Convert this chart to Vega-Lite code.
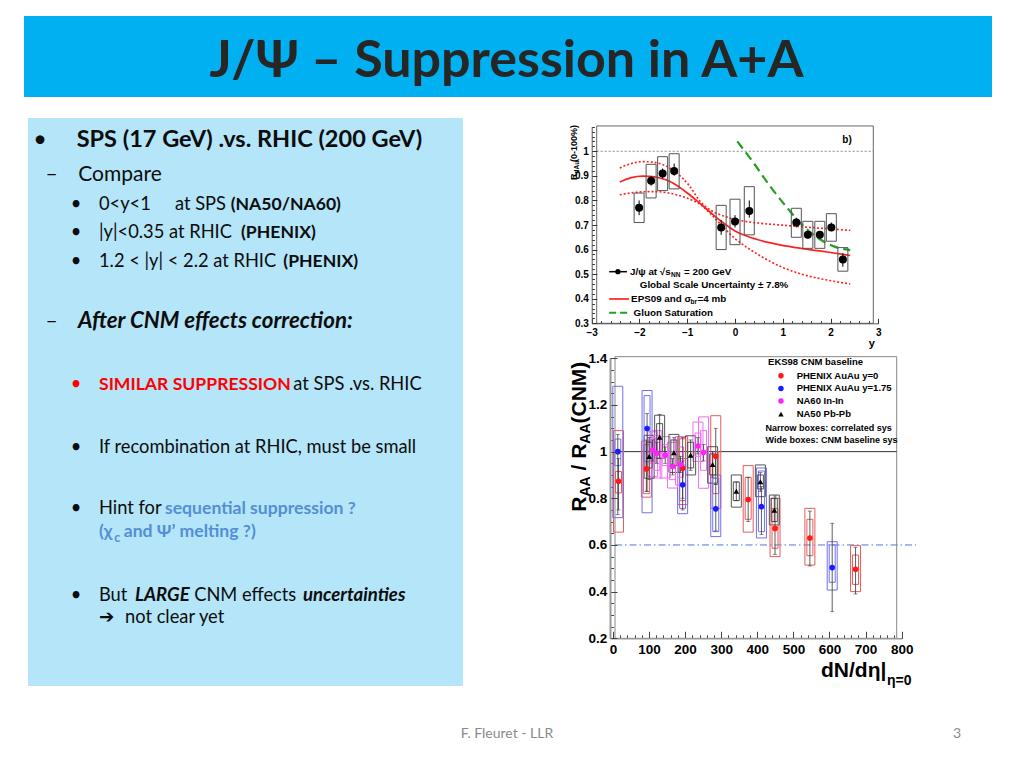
{
  "$schema": "https://vega.github.io/schema/vega-lite/v6.json",
  "background": "white",
  "width": 1000,
  "height": 752,
  "padding": {"left": 24, "top": 16, "right": 0, "bottom": 0},
  "autosize": {"type": "none"},
  "config": {"view": {"stroke": null}, "axis": {"grid": false}},
  "datasets": {
    "panel": [
      {"t": "•", "x": 2.76, "y": 5.05, "lvl": "h", "tone": "dark", "role": "bullet"},
      {"t": "SPS (17 GeV) .vs. RHIC (200 GeV)", "x": 11.19, "y": 5.05, "lvl": "h", "tone": "dark", "role": "strong"},
      {"t": "–", "x": 5.45, "y": 11.04, "lvl": "l2", "tone": "dark", "role": "bullet"},
      {"t": "Compare", "x": 11.56, "y": 11.04, "lvl": "l2", "tone": "dark", "role": "plain"},
      {"t": "•", "x": 11.03, "y": 16.2, "lvl": "l3", "tone": "dark", "role": "bullet"},
      {"t": "0<y<1", "x": 16.32, "y": 16.2, "lvl": "l3", "tone": "dark", "role": "plain"},
      {"t": "at SPS", "x": 33.79, "y": 16.2, "lvl": "l3", "tone": "dark", "role": "plain"},
      {"t": "(NA50/NA60)", "x": 46.6, "y": 16.2, "lvl": "l3", "tone": "dark", "role": "strong"},
      {"t": "•", "x": 11.03, "y": 21.18, "lvl": "l3", "tone": "dark", "role": "bullet"},
      {"t": "|y|<0.35 at RHIC", "x": 16.32, "y": 21.18, "lvl": "l3", "tone": "dark", "role": "plain"},
      {"t": "(PHENIX)", "x": 48.97, "y": 21.18, "lvl": "l3", "tone": "dark", "role": "strong"},
      {"t": "•", "x": 11.03, "y": 26.18, "lvl": "l3", "tone": "dark", "role": "bullet"},
      {"t": "1.2 < |y| < 2.2 at RHIC", "x": 16.32, "y": 26.18, "lvl": "l3", "tone": "dark", "role": "plain"},
      {"t": "(PHENIX)", "x": 58.69, "y": 26.18, "lvl": "l3", "tone": "dark", "role": "strong"},
      {"t": "–", "x": 5.45, "y": 37.02, "lvl": "l2", "tone": "dark", "role": "bullet"},
      {"t": "After CNM effects correction:", "x": 11.49, "y": 37.02, "lvl": "l2", "tone": "dark", "role": "emphasis"},
      {"t": "•", "x": 11.03, "y": 47.89, "lvl": "l3", "tone": "red", "role": "bullet"},
      {"t": "SIMILAR SUPPRESSION", "x": 16.32, "y": 47.89, "lvl": "l3", "tone": "red", "role": "strong"},
      {"t": "at SPS .vs. RHIC", "x": 61.0, "y": 47.89, "lvl": "l3", "tone": "dark", "role": "plain"},
      {"t": "•", "x": 11.03, "y": 58.93, "lvl": "l3", "tone": "dark", "role": "bullet"},
      {"t": "If recombination at RHIC, must be small", "x": 16.32, "y": 58.93, "lvl": "l3", "tone": "dark", "role": "plain"},
      {"t": "•", "x": 11.03, "y": 69.77, "lvl": "l3", "tone": "dark", "role": "bullet"},
      {"t": "Hint for", "x": 16.32, "y": 69.77, "lvl": "l3", "tone": "dark", "role": "plain"},
      {"t": "sequential suppression ?", "x": 31.49, "y": 69.77, "lvl": "l3", "tone": "blue", "role": "strong"},
      {"t": "(χ", "x": 16.32, "y": 73.71, "lvl": "l3", "tone": "blue", "role": "strong"},
      {"t": "c", "x": 19.8, "y": 74.6, "lvl": "sub", "tone": "blue", "role": "strong"},
      {"t": "and Ψ’ melting ?)", "x": 22.0, "y": 73.71, "lvl": "l3", "tone": "blue", "role": "strong"},
      {"t": "•", "x": 11.03, "y": 85.04, "lvl": "l3", "tone": "dark", "role": "bullet"},
      {"t": "But", "x": 16.32, "y": 85.04, "lvl": "l3", "tone": "dark", "role": "plain"},
      {"t": "LARGE", "x": 24.6, "y": 85.04, "lvl": "l3", "tone": "dark", "role": "emphasis"},
      {"t": "CNM effects", "x": 38.2, "y": 85.04, "lvl": "l3", "tone": "dark", "role": "plain"},
      {"t": "uncertainties", "x": 63.2, "y": 85.04, "lvl": "l3", "tone": "dark", "role": "emphasis"},
      {"t": "➔", "x": 16.32, "y": 88.86, "lvl": "l3", "tone": "dark", "role": "plain"},
      {"t": "not clear yet", "x": 22.3, "y": 88.86, "lvl": "l3", "tone": "dark", "role": "plain"}
    ],
    "top": [
      {"rap": -2.08, "r": 0.77, "elo": 0.74, "ehi": 0.80, "slo": 0.71, "shi": 0.83},
      {"rap": -1.82, "r": 0.88, "elo": 0.86, "ehi": 0.90, "slo": 0.81, "shi": 0.947},
      {"rap": -1.57, "r": 0.91, "elo": 0.89, "ehi": 0.93, "slo": 0.84, "shi": 0.978},
      {"rap": -1.32, "r": 0.92, "elo": 0.90, "ehi": 0.95, "slo": 0.847, "shi": 0.99},
      {"rap": -0.30, "r": 0.69, "elo": 0.66, "ehi": 0.72, "slo": 0.60, "shi": 0.78},
      {"rap": 0.0, "r": 0.714, "elo": 0.69, "ehi": 0.74, "slo": 0.62, "shi": 0.805},
      {"rap": 0.31, "r": 0.757, "elo": 0.73, "ehi": 0.80, "slo": 0.66, "shi": 0.856},
      {"rap": 1.33, "r": 0.71, "elo": 0.69, "ehi": 0.73, "slo": 0.65, "shi": 0.768},
      {"rap": 1.58, "r": 0.66, "elo": 0.645, "ehi": 0.675, "slo": 0.605, "shi": 0.715},
      {"rap": 1.84, "r": 0.66, "elo": 0.645, "ehi": 0.675, "slo": 0.605, "shi": 0.715},
      {"rap": 2.09, "r": 0.69, "elo": 0.675, "ehi": 0.71, "slo": 0.634, "shi": 0.746},
      {"rap": 2.34, "r": 0.56, "elo": 0.53, "ehi": 0.585, "slo": 0.512, "shi": 0.608}
    ],
    "curves": [
      {"c": "EPS09", "rap": -2.5, "r": 0.875}, {"c": "EPS09", "rap": -2.25, "r": 0.893}, {"c": "EPS09", "rap": -2.0, "r": 0.899},
      {"c": "EPS09", "rap": -1.75, "r": 0.896}, {"c": "EPS09", "rap": -1.5, "r": 0.884}, {"c": "EPS09", "rap": -1.25, "r": 0.86},
      {"c": "EPS09", "rap": -1.0, "r": 0.825}, {"c": "EPS09", "rap": -0.75, "r": 0.786}, {"c": "EPS09", "rap": -0.5, "r": 0.746},
      {"c": "EPS09", "rap": -0.25, "r": 0.708}, {"c": "EPS09", "rap": 0.0, "r": 0.676}, {"c": "EPS09", "rap": 0.25, "r": 0.655},
      {"c": "EPS09", "rap": 0.5, "r": 0.64}, {"c": "EPS09", "rap": 0.75, "r": 0.628}, {"c": "EPS09", "rap": 1.0, "r": 0.618},
      {"c": "EPS09", "rap": 1.5, "r": 0.603}, {"c": "EPS09", "rap": 2.0, "r": 0.59}, {"c": "EPS09", "rap": 2.5, "r": 0.576},
      {"c": "EPS09 upper", "rap": -2.5, "r": 0.932}, {"c": "EPS09 upper", "rap": -2.25, "r": 0.95}, {"c": "EPS09 upper", "rap": -2.0, "r": 0.958},
      {"c": "EPS09 upper", "rap": -1.75, "r": 0.955}, {"c": "EPS09 upper", "rap": -1.5, "r": 0.94}, {"c": "EPS09 upper", "rap": -1.25, "r": 0.91},
      {"c": "EPS09 upper", "rap": -1.0, "r": 0.862}, {"c": "EPS09 upper", "rap": -0.75, "r": 0.795}, {"c": "EPS09 upper", "rap": -0.5, "r": 0.757},
      {"c": "EPS09 upper", "rap": -0.25, "r": 0.737}, {"c": "EPS09 upper", "rap": 0.0, "r": 0.723}, {"c": "EPS09 upper", "rap": 0.5, "r": 0.708},
      {"c": "EPS09 upper", "rap": 1.0, "r": 0.70}, {"c": "EPS09 upper", "rap": 1.5, "r": 0.692}, {"c": "EPS09 upper", "rap": 2.0, "r": 0.685},
      {"c": "EPS09 upper", "rap": 2.5, "r": 0.678},
      {"c": "EPS09 lower", "rap": -2.5, "r": 0.823}, {"c": "EPS09 lower", "rap": -2.0, "r": 0.835}, {"c": "EPS09 lower", "rap": -1.75, "r": 0.836},
      {"c": "EPS09 lower", "rap": -1.5, "r": 0.832}, {"c": "EPS09 lower", "rap": -1.25, "r": 0.822}, {"c": "EPS09 lower", "rap": -1.0, "r": 0.806},
      {"c": "EPS09 lower", "rap": -0.75, "r": 0.783}, {"c": "EPS09 lower", "rap": -0.5, "r": 0.74}, {"c": "EPS09 lower", "rap": -0.25, "r": 0.69},
      {"c": "EPS09 lower", "rap": 0.0, "r": 0.645}, {"c": "EPS09 lower", "rap": 0.25, "r": 0.61}, {"c": "EPS09 lower", "rap": 0.5, "r": 0.58},
      {"c": "EPS09 lower", "rap": 0.75, "r": 0.553}, {"c": "EPS09 lower", "rap": 1.0, "r": 0.53}, {"c": "EPS09 lower", "rap": 1.25, "r": 0.512},
      {"c": "EPS09 lower", "rap": 1.5, "r": 0.497}, {"c": "EPS09 lower", "rap": 2.0, "r": 0.476}, {"c": "EPS09 lower", "rap": 2.5, "r": 0.46},
      {"c": "Gluon", "rap": 0.05, "r": 1.04}, {"c": "Gluon", "rap": 0.41, "r": 0.951}, {"c": "Gluon", "rap": 0.76, "r": 0.858},
      {"c": "Gluon", "rap": 1.11, "r": 0.775}, {"c": "Gluon", "rap": 1.46, "r": 0.70}, {"c": "Gluon", "rap": 1.81, "r": 0.646},
      {"c": "Gluon", "rap": 2.16, "r": 0.612}, {"c": "Gluon", "rap": 2.5, "r": 0.598}
    ],
    "bottom": [
      {"set": "PHENIX AuAu y=0", "m": 2, "r": 0.873, "elo": 0.75, "ehi": 0.97, "nlo": 0.823, "nhi": 0.915, "wlo": 0.655, "whi": 1.09},
      {"set": "PHENIX AuAu y=0", "m": 82, "r": 0.926, "elo": 0.83, "ehi": 1.05, "nlo": 0.82, "nhi": 1.03, "wlo": 0.805, "whi": 1.045},
      {"set": "PHENIX AuAu y=0", "m": 186, "r": 0.929, "elo": 0.80, "ehi": 1.06, "nlo": 0.79, "nhi": 1.055, "wlo": 0.773, "whi": 1.064},
      {"set": "PHENIX AuAu y=0", "m": 281, "r": 0.98, "elo": 0.86, "ehi": 1.10, "nlo": 0.82, "nhi": 1.0, "wlo": 0.757, "whi": 1.154},
      {"set": "PHENIX AuAu y=0", "m": 374, "r": 0.795, "elo": 0.70, "ehi": 0.89, "nlo": 0.71, "nhi": 0.89, "wlo": 0.655, "whi": 0.94},
      {"set": "PHENIX AuAu y=0", "m": 451, "r": 0.671, "elo": 0.56, "ehi": 0.81, "nlo": 0.586, "nhi": 0.757, "wlo": 0.55, "whi": 0.80},
      {"set": "PHENIX AuAu y=0", "m": 551, "r": 0.63, "elo": 0.51, "ehi": 0.745, "nlo": 0.554, "nhi": 0.71, "wlo": 0.514, "whi": 0.757},
      {"set": "PHENIX AuAu y=0", "m": 682, "r": 0.496, "elo": 0.39, "ehi": 0.59, "nlo": 0.431, "nhi": 0.557, "wlo": 0.40, "whi": 0.597},
      {"set": "PHENIX AuAu y=1.75", "m": 0, "r": 1.0, "elo": 0.73, "ehi": 1.074, "nlo": 0.94, "nhi": 1.054, "wlo": 0.717, "whi": 1.28},
      {"set": "PHENIX AuAu y=1.75", "m": 84, "r": 1.099, "elo": 0.83, "ehi": 1.163, "nlo": 0.957, "nhi": 1.24, "wlo": 0.738, "whi": 1.262},
      {"set": "PHENIX AuAu y=1.75", "m": 186, "r": 0.858, "elo": 0.75, "ehi": 0.96, "nlo": 0.757, "nhi": 0.943, "wlo": 0.734, "whi": 0.97},
      {"set": "PHENIX AuAu y=1.75", "m": 281, "r": 0.755, "elo": 0.66, "ehi": 0.86, "nlo": 0.657, "nhi": 0.886, "wlo": 0.636, "whi": 0.90},
      {"set": "PHENIX AuAu y=1.75", "m": 412, "r": 0.764, "elo": 0.645, "ehi": 0.85, "nlo": 0.657, "nhi": 0.917, "wlo": 0.63, "whi": 0.93},
      {"set": "PHENIX AuAu y=1.75", "m": 615, "r": 0.503, "elo": 0.314, "ehi": 0.693, "nlo": 0.44, "nhi": 0.60, "wlo": 0.407, "whi": 0.614},
      {"set": "NA60 In-In", "m": 100, "r": 1.007, "elo": 0.96, "ehi": 1.05, "nlo": 0.95, "nhi": 1.06, "wlo": 0.894, "whi": 1.085},
      {"set": "NA60 In-In", "m": 112, "r": 0.993, "elo": 0.95, "ehi": 1.04, "nlo": 0.92, "nhi": 1.07, "wlo": 0.887, "whi": 1.09},
      {"set": "NA60 In-In", "m": 136, "r": 0.985, "elo": 0.95, "ehi": 1.02, "nlo": 0.94, "nhi": 1.03, "wlo": 0.887, "whi": 1.064},
      {"set": "NA60 In-In", "m": 157, "r": 0.937, "elo": 0.90, "ehi": 0.97, "nlo": 0.88, "nhi": 1.0, "wlo": 0.844, "whi": 1.04},
      {"set": "NA60 In-In", "m": 180, "r": 0.945, "elo": 0.91, "ehi": 0.98, "nlo": 0.89, "nhi": 1.02, "wlo": 0.857, "whi": 1.064},
      {"set": "NA60 In-In", "m": 230, "r": 1.024, "elo": 0.99, "ehi": 1.06, "nlo": 0.98, "nhi": 1.08, "wlo": 0.958, "whi": 1.127},
      {"set": "NA60 In-In", "m": 246, "r": 0.997, "elo": 0.96, "ehi": 1.03, "nlo": 0.92, "nhi": 1.09, "wlo": 0.843, "whi": 1.149},
      {"set": "NA50 Pb-Pb", "m": 90, "r": 0.979, "elo": 0.88, "ehi": 1.06, "nlo": 0.93, "nhi": 1.04, "wlo": 0.886, "whi": 1.07},
      {"set": "NA50 Pb-Pb", "m": 120, "r": 1.062, "elo": 0.97, "ehi": 1.16, "nlo": 1.0, "nhi": 1.12, "wlo": 0.972, "whi": 1.156},
      {"set": "NA50 Pb-Pb", "m": 161, "r": 0.995, "elo": 0.93, "ehi": 1.06, "nlo": 0.94, "nhi": 1.05, "wlo": 0.911, "whi": 1.074},
      {"set": "NA50 Pb-Pb", "m": 209, "r": 0.985, "elo": 0.92, "ehi": 1.05, "nlo": 0.93, "nhi": 1.04, "wlo": 0.90, "whi": 1.068},
      {"set": "NA50 Pb-Pb", "m": 272, "r": 0.945, "elo": 0.89, "ehi": 1.0, "nlo": 0.90, "nhi": 0.99, "wlo": 0.865, "whi": 1.021},
      {"set": "NA50 Pb-Pb", "m": 340, "r": 0.83, "elo": 0.79, "ehi": 0.87, "nlo": 0.79, "nhi": 0.87, "wlo": 0.762, "whi": 0.90},
      {"set": "NA50 Pb-Pb", "m": 409, "r": 0.871, "elo": 0.83, "ehi": 0.91, "nlo": 0.84, "nhi": 0.90, "wlo": 0.807, "whi": 0.943},
      {"set": "NA50 Pb-Pb", "m": 449, "r": 0.749, "elo": 0.70, "ehi": 0.80, "nlo": 0.70, "nhi": 0.80, "wlo": 0.686, "whi": 0.814}
    ]
  },
  "resolve": {"scale": {"x": "independent", "y": "independent", "color": "independent", "stroke": "independent"}},
  "layer": [
    {
      "layer": [
        {"data": {"values": [{}]}, "mark": {"type": "rect", "color": "#00b0f0"},
         "encoding": {
           "x": {"datum": 0, "type": "quantitative", "scale": {"domain": [0, 100], "range": [0, 968]}, "axis": null}, "x2": {"datum": 100},
           "y": {"datum": 0, "type": "quantitative", "scale": {"domain": [0, 100], "range": [0, 81]}, "axis": null}, "y2": {"datum": 100}}},
        {"data": {"values": [{"t": "J/Ψ – Suppression in A+A", "x": 49.85, "y": 75.5}]},
         "mark": {"type": "text", "font": "Lato", "fontWeight": "bold", "fontSize": 52, "color": "#262626", "align": "center", "baseline": "alphabetic"},
         "encoding": {"text": {"field": "t"}, "x": {"field": "x", "type": "quantitative", "axis": null}, "y": {"field": "y", "type": "quantitative", "axis": null}}}
      ]
    },
    {
      "layer": [
        {"data": {"values": [{}]}, "mark": {"type": "rect", "color": "#b4e5f8"},
         "encoding": {
           "x": {"datum": 0, "type": "quantitative", "scale": {"domain": [0, 100], "range": [4, 439]}, "axis": null}, "x2": {"datum": 100},
           "y": {"datum": 0, "type": "quantitative", "scale": {"domain": [0, 100], "range": [102, 670]}, "axis": null}, "y2": {"datum": 100}}},
        {
          "data": {"name": "panel"},
          "encoding": {
            "x": {"field": "x", "type": "quantitative", "axis": null},
            "y": {"field": "y", "type": "quantitative", "axis": null},
            "text": {"field": "t"},
            "color": {"field": "tone", "type": "nominal", "scale": {"domain": ["dark", "red", "blue"], "range": ["#0d0d0d", "#ff0000", "#558ed5"]}, "legend": null}
          },
          "layer": [
            {"transform": [{"filter": "datum.role == 'bullet' && datum.lvl == 'h'"}], "mark": {"type": "text", "align": "center", "baseline": "alphabetic", "font": "Lato", "fontSize": 23.5}},
            {"transform": [{"filter": "datum.role == 'bullet' && datum.lvl == 'l2'"}], "mark": {"type": "text", "align": "center", "baseline": "alphabetic", "font": "Lato", "fontSize": 21}},
            {"transform": [{"filter": "datum.role == 'bullet' && datum.lvl == 'l3'"}], "mark": {"type": "text", "align": "center", "baseline": "alphabetic", "font": "Lato", "fontSize": 18.3}},
            {"transform": [{"filter": "datum.role == 'plain' && datum.lvl == 'l2'"}], "mark": {"type": "text", "align": "left", "baseline": "alphabetic", "font": "Lato", "fontSize": 21}},
            {"transform": [{"filter": "datum.role == 'plain' && datum.lvl == 'l3'"}], "mark": {"type": "text", "align": "left", "baseline": "alphabetic", "font": "Lato, DejaVu Sans", "fontSize": 18.3}},
            {"transform": [{"filter": "datum.role == 'strong' && datum.lvl == 'h'"}], "mark": {"type": "text", "align": "left", "baseline": "alphabetic", "font": "Lato", "fontWeight": "bold", "fontSize": 23.5}},
            {"transform": [{"filter": "datum.role == 'strong' && datum.lvl == 'l3'"}], "mark": {"type": "text", "align": "left", "baseline": "alphabetic", "font": "Lato", "fontWeight": "bold", "fontSize": 17.6}},
            {"transform": [{"filter": "datum.role == 'strong' && datum.lvl == 'sub'"}], "mark": {"type": "text", "align": "left", "baseline": "alphabetic", "font": "Lato", "fontWeight": "bold", "fontSize": 12.5}},
            {"transform": [{"filter": "datum.role == 'emphasis' && datum.lvl == 'l2'"}], "mark": {"type": "text", "align": "left", "baseline": "alphabetic", "font": "Lato", "fontWeight": "bold", "fontStyle": "italic", "fontSize": 22.3}},
            {"transform": [{"filter": "datum.role == 'emphasis' && datum.lvl == 'l3'"}], "mark": {"type": "text", "align": "left", "baseline": "alphabetic", "font": "Lato", "fontWeight": "bold", "fontStyle": "italic", "fontSize": 18.6}}
          ]
        }
      ]
    },
    {
      "data": {"values": [{"t": "F. Fleuret - LLR", "x": 49.9, "y": 77.5}, {"t": "3", "x": 96.4, "y": 77.5}]},
      "mark": {"type": "text", "font": "Lato", "fontSize": 14, "color": "#8a8a8a", "align": "center", "baseline": "alphabetic"},
      "encoding": {
        "text": {"field": "t"},
        "x": {"field": "x", "type": "quantitative", "scale": {"domain": [0, 100], "range": [0, 968]}, "axis": null},
        "y": {"field": "y", "type": "quantitative", "scale": {"domain": [0, 100], "range": [691, 731]}, "axis": null}
      }
    },
    {
      "layer": [
        {"data": {"values": [{}]}, "mark": {"type": "rect", "filled": false, "color": "#666", "strokeWidth": 1},
         "encoding": {
           "x": {"datum": -3, "type": "quantitative", "scale": {"domain": [-3, 3], "range": [567.7, 854.3], "nice": false, "zero": false}, "axis": null}, "x2": {"datum": 3},
           "y": {"datum": 0.3, "type": "quantitative", "scale": {"domain": [0.3, 1.1], "range": [307.3, 110.7], "nice": false, "zero": false}, "axis": null}, "y2": {"datum": 1.103}}},
        {"data": {"values": [{}]}, "mark": {"type": "rule", "color": "#888", "strokeDash": [2, 2], "strokeWidth": 1},
         "encoding": {"x": {"datum": -3, "type": "quantitative", "axis": null}, "x2": {"datum": 3}, "y": {"datum": 1, "type": "quantitative", "axis": null}}},
        {"data": {"name": "curves"}, "transform": [{"filter": "datum.c == 'EPS09 upper' || datum.c == 'EPS09 lower'"}],
         "mark": {"type": "line", "color": "#ff2020", "strokeWidth": 1.6, "strokeDash": [2, 2], "interpolate": "monotone"},
         "encoding": {"x": {"field": "rap", "type": "quantitative", "axis": null}, "y": {"field": "r", "type": "quantitative", "axis": null}, "detail": {"field": "c"}}},
        {"data": {"name": "curves"}, "transform": [{"filter": "datum.c == 'EPS09'"}],
         "mark": {"type": "line", "color": "#ff2020", "strokeWidth": 1.7, "interpolate": "monotone"},
         "encoding": {"x": {"field": "rap", "type": "quantitative", "axis": null}, "y": {"field": "r", "type": "quantitative", "axis": null}}},
        {"data": {"name": "curves"}, "transform": [{"filter": "datum.c == 'Gluon'"}],
         "mark": {"type": "line", "color": "#22a022", "strokeWidth": 2.2, "strokeDash": [9, 5], "interpolate": "monotone"},
         "encoding": {"x": {"field": "rap", "type": "quantitative", "axis": null}, "y": {"field": "r", "type": "quantitative", "axis": null}}},
        {"data": {"name": "top"}, "mark": {"type": "bar", "width": 10, "filled": false, "color": "#555", "strokeWidth": 1},
         "encoding": {"x": {"field": "rap", "type": "quantitative", "axis": null}, "y": {"field": "slo", "type": "quantitative", "axis": null}, "y2": {"field": "shi"}}},
        {"data": {"name": "top"}, "mark": {"type": "rule", "color": "#000", "strokeWidth": 1},
         "encoding": {"x": {"field": "rap", "type": "quantitative", "axis": null}, "y": {"field": "elo", "type": "quantitative", "axis": null}, "y2": {"field": "ehi"}}},
        {"data": {"name": "top"}, "mark": {"type": "point", "shape": "circle", "filled": true, "size": 64, "color": "#000", "opacity": 1},
         "encoding": {"x": {"field": "rap", "type": "quantitative", "axis": null}, "y": {"field": "r", "type": "quantitative", "axis": null}}},
        {"data": {"values": [{}]}, "mark": {"type": "rule", "color": "#000", "strokeWidth": 1.5},
         "encoding": {"x": {"datum": -2.73, "type": "quantitative", "axis": null}, "x2": {"datum": -2.345}, "y": {"datum": 0.51, "type": "quantitative", "axis": null}}},
        {"data": {"values": [{}]}, "mark": {"type": "point", "shape": "circle", "filled": true, "size": 28, "color": "#000", "opacity": 1},
         "encoding": {"x": {"datum": -2.54, "type": "quantitative", "axis": null}, "y": {"datum": 0.51, "type": "quantitative", "axis": null}}},
        {"data": {"values": [{}]},
         "encoding": {"x": {"datum": -2.275, "type": "quantitative", "axis": null}, "y": {"datum": 0.51, "type": "quantitative", "axis": null}},
         "layer": [
           {"mark": {"type": "text", "text": "J/ψ at √s", "align": "left", "baseline": "middle", "font": "Liberation Sans", "fontWeight": "bold", "fontSize": 9.8, "color": "#000"}},
           {"mark": {"type": "text", "text": "NN", "dx": 41, "dy": 3, "align": "left", "baseline": "middle", "font": "Liberation Sans", "fontWeight": "bold", "fontSize": 6.5, "color": "#000"}},
           {"mark": {"type": "text", "text": "= 200 GeV", "dx": 54, "align": "left", "baseline": "middle", "font": "Liberation Sans", "fontWeight": "bold", "fontSize": 9.8, "color": "#000"}}
         ]},
        {"data": {"values": [{}]}, "mark": {"type": "text", "text": "Global Scale Uncertainty ± 7.8%", "align": "left", "baseline": "middle", "font": "Liberation Sans", "fontWeight": "bold", "fontSize": 9.8, "color": "#000"},
         "encoding": {"x": {"datum": -2.066, "type": "quantitative", "axis": null}, "y": {"datum": 0.456, "type": "quantitative", "axis": null}}},
        {"data": {"values": [{}]}, "mark": {"type": "rule", "color": "#ff2020", "strokeWidth": 1.7},
         "encoding": {"x": {"datum": -2.73, "type": "quantitative", "axis": null}, "x2": {"datum": -2.3}, "y": {"datum": 0.399, "type": "quantitative", "axis": null}}},
        {"data": {"values": [{}]},
         "encoding": {"x": {"datum": -2.254, "type": "quantitative", "axis": null}, "y": {"datum": 0.399, "type": "quantitative", "axis": null}},
         "layer": [
           {"mark": {"type": "text", "text": "EPS09 and σ", "align": "left", "baseline": "middle", "font": "Liberation Sans", "fontWeight": "bold", "fontSize": 9.8, "color": "#000"}},
           {"mark": {"type": "text", "text": "br", "dx": 59.5, "dy": 3, "align": "left", "baseline": "middle", "font": "Liberation Sans", "fontWeight": "bold", "fontSize": 6.5, "color": "#000"}},
           {"mark": {"type": "text", "text": "=4 mb", "dx": 66.5, "align": "left", "baseline": "middle", "font": "Liberation Sans", "fontWeight": "bold", "fontSize": 9.8, "color": "#000"}}
         ]},
        {"data": {"values": [{}]}, "mark": {"type": "rule", "color": "#22a022", "strokeWidth": 2, "strokeDash": [7, 4]},
         "encoding": {"x": {"datum": -2.73, "type": "quantitative", "axis": null}, "x2": {"datum": -2.3}, "y": {"datum": 0.343, "type": "quantitative", "axis": null}}},
        {"data": {"values": [{}]}, "mark": {"type": "text", "text": "Gluon Saturation", "align": "left", "baseline": "middle", "font": "Liberation Sans", "fontWeight": "bold", "fontSize": 9.8, "color": "#000"},
         "encoding": {"x": {"datum": -2.2, "type": "quantitative", "axis": null}, "y": {"datum": 0.343, "type": "quantitative", "axis": null}}},
        {"data": {"values": [{}]}, "mark": {"type": "text", "text": "b)", "align": "center", "baseline": "middle", "font": "Liberation Sans", "fontWeight": "bold", "fontSize": 10, "color": "#000"},
         "encoding": {"x": {"datum": 2.43, "type": "quantitative", "axis": null}, "y": {"datum": 1.046, "type": "quantitative", "axis": null}}},
        {"data": {"values": [{}]}, "mark": {"type": "text", "text": "y", "align": "center", "baseline": "middle", "font": "Liberation Sans", "fontWeight": "bold", "fontSize": 11, "color": "#000"},
         "encoding": {"x": {"datum": 2.97, "type": "quantitative", "axis": null}, "y": {"datum": 0.215, "type": "quantitative", "axis": null}}},
        {"data": {"values": [{}]},
         "encoding": {"x": {"datum": -3.43, "type": "quantitative", "axis": null}, "y": {"datum": 0.883, "type": "quantitative", "axis": null}},
         "layer": [
           {"mark": {"type": "text", "text": "R", "angle": 270, "align": "left", "baseline": "alphabetic", "font": "Liberation Sans", "fontWeight": "bold", "fontSize": 9, "color": "#000"}},
           {"mark": {"type": "text", "text": "dAu", "dx": 6.5, "dy": 2.5, "angle": 270, "align": "left", "baseline": "alphabetic", "font": "Liberation Sans", "fontWeight": "bold", "fontSize": 6.5, "color": "#000"}},
           {"mark": {"type": "text", "text": "(0-100%)", "dx": 18.1, "angle": 270, "align": "left", "baseline": "alphabetic", "font": "Liberation Sans", "fontWeight": "bold", "fontSize": 9, "color": "#000"}}
         ]}
      ]
    },
    {
      "data": {"values": [{}]},
      "mark": {"type": "point", "opacity": 0},
      "encoding": {
        "x": {"datum": 0, "type": "quantitative",
              "scale": {"domain": [-3, 3], "range": [567.7, 854.3], "nice": false, "zero": false},
              "axis": {"orient": "bottom", "offset": -444.7, "zindex": 1, "values": [-3, -2, -1, 0, 1, 2, 3], "format": "~g", "title": null, "domainColor": "#555", "tickColor": "#333", "tickSize": -5, "labelFont": "Liberation Sans", "labelFontWeight": "bold", "labelFontSize": 10, "labelColor": "#000", "labelPadding": 9, "labelFlush": false, "labelOverlap": false}},
        "y": {"datum": 0.5, "type": "quantitative",
              "scale": {"domain": [0.3, 1.1], "range": [307.3, 110.7], "nice": false, "zero": false},
              "axis": {"orient": "left", "offset": -567.7, "zindex": 1, "values": [0.3, 0.4, 0.5, 0.6, 0.7, 0.8, 0.9, 1], "format": "~g", "title": null, "domainColor": "#555", "tickColor": "#333", "tickSize": -5, "labelFont": "Liberation Sans", "labelFontWeight": "bold", "labelFontSize": 10, "labelColor": "#000", "labelPadding": 8.4, "labelFlush": false, "labelOverlap": false}}
      }
    },
    {
      "data": {"values": [{}]},
      "mark": {"type": "point", "opacity": 0},
      "encoding": {
        "x": {"datum": 0, "type": "quantitative",
              "scale": {"domain": [-3, 3], "range": [567.7, 854.3], "nice": false, "zero": false},
              "axis": {"orient": "bottom", "offset": -444.7, "values": [-3, -2.8, -2.6, -2.4, -2.2, -2, -1.8, -1.6, -1.4, -1.2, -1, -0.8, -0.6, -0.4, -0.2, 0, 0.2, 0.4, 0.6, 0.8, 1, 1.2, 1.4, 1.6, 1.8, 2, 2.2, 2.4, 2.6, 2.8, 3], "labels": false, "domain": false, "title": null, "tickColor": "#333", "tickSize": -2.7}},
        "y": {"datum": 0.5, "type": "quantitative",
              "scale": {"domain": [0.3, 1.1], "range": [307.3, 110.7], "nice": false, "zero": false},
              "axis": {"orient": "left", "offset": -567.7, "values": [0.3, 0.32, 0.34, 0.36, 0.38, 0.4, 0.42, 0.44, 0.46, 0.48, 0.5, 0.52, 0.54, 0.56, 0.58, 0.6, 0.62, 0.64, 0.66, 0.68, 0.7, 0.72, 0.74, 0.76, 0.78, 0.8, 0.82, 0.84, 0.86, 0.88, 0.9, 0.92, 0.94, 0.96, 0.98, 1, 1.02, 1.04, 1.06, 1.08, 1.1], "labels": false, "domain": false, "title": null, "tickColor": "#333", "tickSize": -2.7}}
      }
    },
    {
      "layer": [
        {"data": {"values": [{}]}, "mark": {"type": "rect", "filled": false, "color": "#888", "strokeWidth": 1},
         "encoding": {
           "x": {"datum": -8, "type": "quantitative", "scale": {"domain": [-8, 800], "range": [586, 877.7], "nice": false, "zero": false}, "axis": null}, "x2": {"datum": 800},
           "y": {"datum": 0.2, "type": "quantitative", "scale": {"domain": [0.2, 1.4], "range": [622.3, 342.3], "nice": false, "zero": false}, "axis": null}, "y2": {"datum": 1.407}}},
        {"data": {"values": [{}]}, "mark": {"type": "rule", "color": "#333", "strokeWidth": 1},
         "encoding": {"x": {"datum": -8, "type": "quantitative", "axis": null}, "x2": {"datum": 800}, "y": {"datum": 1, "type": "quantitative", "axis": null}}},
        {"data": {"values": [{}]}, "mark": {"type": "rule", "color": "#4a7bd0", "strokeWidth": 1, "strokeDash": [7, 3, 1.5, 3]},
         "encoding": {"x": {"datum": -8, "type": "quantitative", "axis": null}, "x2": {"datum": 855.7}, "y": {"datum": 0.6, "type": "quantitative", "axis": null}}},
        {"data": {"name": "bottom"}, "mark": {"type": "bar", "width": 10, "filled": false, "strokeWidth": 1},
         "encoding": {"x": {"field": "m", "type": "quantitative", "axis": null}, "y": {"field": "wlo", "type": "quantitative", "axis": null}, "y2": {"field": "whi"},
           "stroke": {"field": "set", "type": "nominal", "scale": {"domain": ["PHENIX AuAu y=0", "PHENIX AuAu y=1.75", "NA60 In-In", "NA50 Pb-Pb"], "range": ["#e85a5a", "#7070f0", "#f070f0", "#555555"]}, "legend": null}}},
        {"data": {"name": "bottom"}, "mark": {"type": "bar", "width": 6, "filled": false, "strokeWidth": 1},
         "encoding": {"x": {"field": "m", "type": "quantitative", "axis": null}, "y": {"field": "nlo", "type": "quantitative", "axis": null}, "y2": {"field": "nhi"},
           "stroke": {"field": "set", "type": "nominal", "legend": null}}},
        {"data": {"name": "bottom"}, "mark": {"type": "errorbar", "color": "#333", "thickness": 0.8, "ticks": {"size": 4}},
         "encoding": {"x": {"field": "m", "type": "quantitative", "axis": null}, "y": {"field": "elo", "type": "quantitative", "axis": null}, "y2": {"field": "ehi"}}},
        {"data": {"name": "bottom"}, "transform": [{"filter": "datum.set != 'NA50 Pb-Pb'"}],
         "mark": {"type": "point", "shape": "circle", "filled": true, "size": 32, "opacity": 1},
         "encoding": {
           "x": {"field": "m", "type": "quantitative", "axis": null},
           "y": {"field": "r", "type": "quantitative", "axis": null},
           "color": {"field": "set", "type": "nominal", "scale": {"domain": ["PHENIX AuAu y=0", "PHENIX AuAu y=1.75", "NA60 In-In", "NA50 Pb-Pb"], "range": ["#ff1a1a", "#1a1aff", "#ff22ff", "#000000"]}, "legend": null}
         }},
        {"data": {"name": "bottom"}, "transform": [{"filter": "datum.set == 'NA50 Pb-Pb'"}],
         "mark": {"type": "point", "shape": "triangle-up", "filled": true, "size": 34, "color": "#000", "opacity": 1},
         "encoding": {"x": {"field": "m", "type": "quantitative", "axis": null}, "y": {"field": "r", "type": "quantitative", "axis": null}}},
        {"data": {"values": [{}]}, "mark": {"type": "text", "text": "EKS98 CNM baseline", "align": "left", "baseline": "middle", "font": "Liberation Sans", "fontWeight": "bold", "fontSize": 9.5, "color": "#000"},
         "encoding": {"x": {"datum": 431, "type": "quantitative", "axis": null}, "y": {"datum": 1.384, "type": "quantitative", "axis": null}}},
        {"data": {"values": [{}]}, "encoding": {"y": {"datum": 1.325, "type": "quantitative", "axis": null}},
         "layer": [
           {"mark": {"type": "point", "shape": "circle", "filled": true, "size": 30, "color": "#ff1a1a", "opacity": 1}, "encoding": {"x": {"datum": 468, "type": "quantitative", "axis": null}}},
           {"mark": {"type": "text", "text": "PHENIX AuAu y=0", "align": "left", "baseline": "middle", "font": "Liberation Sans", "fontWeight": "bold", "fontSize": 9.5, "color": "#000"}, "encoding": {"x": {"datum": 513, "type": "quantitative", "axis": null}}}
         ]},
        {"data": {"values": [{}]}, "encoding": {"y": {"datum": 1.271, "type": "quantitative", "axis": null}},
         "layer": [
           {"mark": {"type": "point", "shape": "circle", "filled": true, "size": 30, "color": "#1a1aff", "opacity": 1}, "encoding": {"x": {"datum": 468, "type": "quantitative", "axis": null}}},
           {"mark": {"type": "text", "text": "PHENIX AuAu y=1.75", "align": "left", "baseline": "middle", "font": "Liberation Sans", "fontWeight": "bold", "fontSize": 9.5, "color": "#000"}, "encoding": {"x": {"datum": 513, "type": "quantitative", "axis": null}}}
         ]},
        {"data": {"values": [{}]}, "encoding": {"y": {"datum": 1.217, "type": "quantitative", "axis": null}},
         "layer": [
           {"mark": {"type": "point", "shape": "circle", "filled": true, "size": 30, "color": "#ff22ff", "opacity": 1}, "encoding": {"x": {"datum": 468, "type": "quantitative", "axis": null}}},
           {"mark": {"type": "text", "text": "NA60 In-In", "align": "left", "baseline": "middle", "font": "Liberation Sans", "fontWeight": "bold", "fontSize": 9.5, "color": "#000"}, "encoding": {"x": {"datum": 513, "type": "quantitative", "axis": null}}}
         ]},
        {"data": {"values": [{}]}, "encoding": {"y": {"datum": 1.161, "type": "quantitative", "axis": null}},
         "layer": [
           {"mark": {"type": "point", "shape": "triangle-up", "filled": true, "size": 30, "color": "#000", "opacity": 1}, "encoding": {"x": {"datum": 468, "type": "quantitative", "axis": null}}},
           {"mark": {"type": "text", "text": "NA50 Pb-Pb", "align": "left", "baseline": "middle", "font": "Liberation Sans", "fontWeight": "bold", "fontSize": 9.5, "color": "#000"}, "encoding": {"x": {"datum": 513, "type": "quantitative", "axis": null}}}
         ]},
        {"data": {"values": [{}]}, "mark": {"type": "text", "text": "Narrow boxes: correlated sys", "align": "left", "baseline": "middle", "font": "Liberation Sans", "fontWeight": "bold", "fontSize": 9, "color": "#000"},
         "encoding": {"x": {"datum": 424, "type": "quantitative", "axis": null}, "y": {"datum": 1.10, "type": "quantitative", "axis": null}}},
        {"data": {"values": [{}]}, "mark": {"type": "text", "text": "Wide boxes: CNM baseline sys", "align": "left", "baseline": "middle", "font": "Liberation Sans", "fontWeight": "bold", "fontSize": 9, "color": "#000"},
         "encoding": {"x": {"datum": 424, "type": "quantitative", "axis": null}, "y": {"datum": 1.05, "type": "quantitative", "axis": null}}},
        {"data": {"values": [{}]},
         "encoding": {"x": {"datum": -90, "type": "quantitative", "axis": null}, "y": {"datum": 0.7425, "type": "quantitative", "axis": null}},
         "layer": [
           {"mark": {"type": "text", "text": "R", "angle": 270, "align": "left", "baseline": "alphabetic", "font": "Liberation Sans", "fontWeight": "bold", "fontSize": 21, "color": "#000"}},
           {"mark": {"type": "text", "text": "AA", "dx": 15.2, "dy": 4, "angle": 270, "align": "left", "baseline": "alphabetic", "font": "Liberation Sans", "fontWeight": "bold", "fontSize": 14, "color": "#000"}},
           {"mark": {"type": "text", "text": "/ R", "dx": 41.2, "angle": 270, "align": "left", "baseline": "alphabetic", "font": "Liberation Sans", "fontWeight": "bold", "fontSize": 21, "color": "#000"}},
           {"mark": {"type": "text", "text": "AA", "dx": 68, "dy": 4, "angle": 270, "align": "left", "baseline": "alphabetic", "font": "Liberation Sans", "fontWeight": "bold", "fontSize": 14, "color": "#000"}},
           {"mark": {"type": "text", "text": "(CNM)", "dx": 88.2, "angle": 270, "align": "left", "baseline": "alphabetic", "font": "Liberation Sans", "fontWeight": "bold", "fontSize": 21, "color": "#000"}}
         ]},
        {"data": {"values": [{}]},
         "encoding": {"x": {"datum": 583, "type": "quantitative", "axis": null}, "y": {"datum": 0.036, "type": "quantitative", "axis": null}},
         "layer": [
           {"mark": {"type": "text", "text": "dN/dη|", "align": "left", "baseline": "alphabetic", "font": "Liberation Sans", "fontWeight": "bold", "fontSize": 21, "color": "#000"}},
           {"mark": {"type": "text", "text": "η=0", "dx": 66, "dy": 8, "align": "left", "baseline": "alphabetic", "font": "Liberation Sans", "fontWeight": "bold", "fontSize": 14, "color": "#000"}}
         ]}
      ]
    },
    {
      "data": {"values": [{}]},
      "mark": {"type": "point", "opacity": 0},
      "encoding": {
        "x": {"datum": 0, "type": "quantitative",
              "scale": {"domain": [-8, 800], "range": [586, 877.7], "nice": false, "zero": false},
              "axis": {"orient": "bottom", "offset": -129.7, "zindex": 1, "values": [0, 100, 200, 300, 400, 500, 600, 700, 800], "format": "d", "title": null, "domainColor": "#999", "domainWidth": 1.5, "tickColor": "#444", "tickSize": -7, "labelFont": "Liberation Sans", "labelFontWeight": "bold", "labelFontSize": 13.5, "labelColor": "#000", "labelPadding": 11.5, "labelFlush": false, "labelOverlap": false}},
        "y": {"datum": 0.5, "type": "quantitative",
              "scale": {"domain": [0.2, 1.4], "range": [622.3, 342.3], "nice": false, "zero": false},
              "axis": {"orient": "left", "offset": -586, "zindex": 1, "values": [0.2, 0.4, 0.6, 0.8, 1, 1.2, 1.4], "format": "~g", "title": null, "domainColor": "#999", "domainWidth": 2, "tickColor": "#444", "tickSize": -7, "labelFont": "Liberation Sans", "labelFontWeight": "bold", "labelFontSize": 13.5, "labelColor": "#000", "labelPadding": 10.3, "labelFlush": false, "labelOverlap": false}}
      }
    },
    {
      "data": {"values": [{}]},
      "mark": {"type": "point", "opacity": 0},
      "encoding": {
        "x": {"datum": 0, "type": "quantitative",
              "scale": {"domain": [-8, 800], "range": [586, 877.7], "nice": false, "zero": false},
              "axis": {"orient": "bottom", "offset": -129.7, "values": [0, 20, 40, 60, 80, 100, 120, 140, 160, 180, 200, 220, 240, 260, 280, 300, 320, 340, 360, 380, 400, 420, 440, 460, 480, 500, 520, 540, 560, 580, 600, 620, 640, 660, 680, 700, 720, 740, 760, 780, 800], "labels": false, "domain": false, "title": null, "tickColor": "#444", "tickSize": -3.5}},
        "y": {"datum": 0.5, "type": "quantitative",
              "scale": {"domain": [0.2, 1.4], "range": [622.3, 342.3], "nice": false, "zero": false},
              "axis": {"orient": "left", "offset": -586, "values": [0.2, 0.25, 0.3, 0.35, 0.4, 0.45, 0.5, 0.55, 0.6, 0.65, 0.7, 0.75, 0.8, 0.85, 0.9, 0.95, 1, 1.05, 1.1, 1.15, 1.2, 1.25, 1.3, 1.35, 1.4], "labels": false, "domain": false, "title": null, "tickColor": "#444", "tickSize": -3.5}}
      }
    }
  ]
}
